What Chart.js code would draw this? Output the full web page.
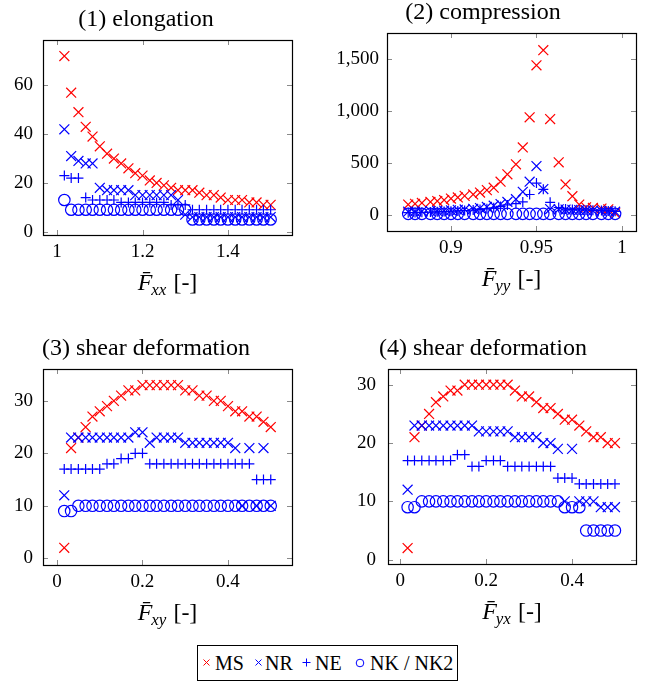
<!DOCTYPE html>
<html>
<head>
<meta charset="utf-8">
<script src="https://cdn.jsdelivr.net/npm/chart.js@4.4.1/dist/chart.umd.min.js"></script>
<style>
html,body{margin:0;padding:0;background:#fff;}
body{width:656px;height:684px;position:relative;overflow:hidden;font-family:"Liberation Serif","Times New Roman",serif;}
canvas{position:absolute;}
#legend{position:absolute;left:197px;top:645px;width:261px;height:36px;box-sizing:border-box;border:1px solid #000;}
#legend span{position:absolute;line-height:20px;font-size:20px;color:#000;white-space:nowrap;}
#legend svg{position:absolute;}
</style>
</head>
<body>
<div id="legend">
  <svg style="left:4px;top:12px" width="9" height="9"><path d="M1.5 1.5L7.5 7.5M7.5 1.5L1.5 7.5" stroke="#ff0000" stroke-width="1" fill="none"/></svg>
  <span style="left:17px;top:7px">MS</span>
  <svg style="left:56px;top:12px" width="9" height="9"><path d="M1.5 1.5L7.5 7.5M7.5 1.5L1.5 7.5" stroke="#0000ff" stroke-width="1" fill="none"/></svg>
  <span style="left:67px;top:7px">NR</span>
  <svg style="left:104px;top:12px" width="9" height="9"><path d="M4.5 0.5V8.5M0.5 4.5H8.5" stroke="#0000ff" stroke-width="1" fill="none"/></svg>
  <span style="left:117px;top:7px">NE</span>
  <svg style="left:157px;top:12px" width="10" height="10"><circle cx="5" cy="5" r="3.8" stroke="#0000ff" stroke-width="1" fill="none"/></svg>
  <span style="left:172px;top:7px">NK / NK2</span>
</div>
<script>
// ---------- data ----------
const F_ELONG = [1.017,1.033,1.05,1.067,1.083,1.1,1.117,1.133,1.15,1.167,1.183,1.2,1.217,1.233,1.25,1.267,1.283,1.3,1.317,1.333,1.35,1.367,1.383,1.4,1.417,1.433,1.45,1.467,1.483,1.5];
const MS_1 = [72,57,49,43,39,35,32,30,28,26,24,23,21,20,19,18,17,17,17,16,15,15,14,13,13,13,12,12,11,11];
const NR_1 = [42,31,29,28,28,18,17,17,17,17,15,15,15,15,15,15,13,7,6,6,6,6,6,6,6,6,6,6,6,6];
const NE_1 = [23,22,22,14,13,13,13,13,12,12,12,12,12,12,12,11,11,11,9,9,9,9,9,9,9,9,9,9,9,9];
const NK_1 = [13,9,9,9,9,9,9,9,9,9,9,9,9,9,9,9,9,9,5,5,5,5,5,5,5,5,5,5,5,5];

const F_COMP = [0.875,0.879,0.883,0.888,0.892,0.896,0.9,0.904,0.908,0.913,0.917,0.921,0.925,0.929,0.933,0.938,0.942,0.946,0.95,0.954,0.958,0.963,0.967,0.971,0.975,0.979,0.983,0.988,0.992,0.996];
const MS_2 = [103,111,119,128,137,147,161,172,187,200,219,242,265,323,394,490,652,942,1442,1588,926,510,297,184,103,77,71,64,58,20];
const NR_2 = [35,36,38,40,42,45,48,52,56,62,70,80,92,108,128,155,226,323,474,252,60,58,55,52,50,48,45,42,40,35];
const NE_2 = [25,27,29,31,33,36,39,42,46,50,55,62,72,85,100,113,129,200,310,250,125,75,60,55,52,50,48,45,42,38];
const NK_2 = [14,14,14,14,14,14,14,14,14,14,14,14,14,14,14,14,14,14,14,14,14,14,14,14,14,14,14,14,14,14];

const F_SHEAR = [0.017,0.033,0.05,0.067,0.083,0.1,0.117,0.133,0.15,0.167,0.183,0.2,0.217,0.233,0.25,0.267,0.283,0.3,0.317,0.333,0.35,0.367,0.383,0.4,0.417,0.433,0.45,0.467,0.483,0.5];
const MS_3 = [2,21,23,25,27,28,29,30,31,32,32,33,33,33,33,33,33,32,32,31,31,30,30,29,28,28,27,27,26,25];
const NR_3 = [12,23,23,23,23,23,23,23,23,23,24,24,22,23,23,23,23,22,22,22,22,22,22,22,21,10,21,10,21,10];
const NE_3 = [17,17,17,17,17,17,18,18,19,19,20,20,18,18,18,18,18,18,18,18,18,18,18,18,18,18,18,15,15,15];
const NK_3 = [9,9,10,10,10,10,10,10,10,10,10,10,10,10,10,10,10,10,10,10,10,10,10,10,10,10,10,10,10,10];

const MS_4 = [2,21,23,25,27,28,29,29,30,30,30,30,30,30,30,29,28,28,27,26,26,25,24,24,23,22,21,21,20,20];
const NR_4 = [12,23,23,23,23,23,23,23,23,23,22,22,22,22,22,21,21,21,21,20,20,19,10,19,10,10,10,9,9,9];
const NE_4 = [17,17,17,17,17,17,17,18,18,16,16,17,17,17,16,16,16,16,16,16,16,14,14,14,13,13,13,13,13,13];
const NK_4 = [9,9,10,10,10,10,10,10,10,10,10,10,10,10,10,10,10,10,10,10,10,10,9,9,9,5,5,5,5,5];

const XT_1 = [1, 1.2, 1.4];       const YT_1 = [0, 20, 40, 60];
const XT_2 = [0.9, 0.95, 1];      const YT_2 = [0, 500, 1000, 1500];
const XT_3 = [0, 0.2, 0.4];       const YT_3 = [0, 10, 20, 30];
const XT_4 = [0, 0.2, 0.4];       const YT_4 = [0, 10, 20, 30];

// ---------- drawing ----------
const FONT = '"Liberation Serif", "Times New Roman", serif';
Chart.defaults.font.family = FONT;
Chart.defaults.color = '#000';

const STYLES = {
  MS: {color: '#ff0000', style: 'crossRot', r: 7},
  NR: {color: '#0000ff', style: 'crossRot', r: 7},
  NE: {color: '#0000ff', style: 'cross', r: 5},
  NK: {color: '#0000ff', style: 'circle', r: 5.7}
};

const fmt = v => Number(v).toLocaleString('en-US', {maximumFractionDigits: 3});

const framePlugin = {
  id: 'frame',
  beforeDatasetsDraw(chart) {
    const {ctx, chartArea: a} = chart;
    const xs = chart.scales.x, ys = chart.scales.y;
    ctx.save();
    ctx.strokeStyle = '#8a8a8a';
    ctx.lineWidth = 1;
    ctx.beginPath();
    xs.ticks.forEach(t => {
      const p = Math.round(xs.getPixelForValue(t.value)) + 0.5;
      ctx.moveTo(p, a.bottom); ctx.lineTo(p, a.bottom - 5);
      ctx.moveTo(p, a.top); ctx.lineTo(p, a.top + 5);
    });
    ys.ticks.forEach(t => {
      const p = Math.round(ys.getPixelForValue(t.value)) + 0.5;
      ctx.moveTo(a.left, p); ctx.lineTo(a.left + 5, p);
      ctx.moveTo(a.right, p); ctx.lineTo(a.right - 5, p);
    });
    ctx.stroke();
    ctx.restore();
  },
  afterDraw(chart, args, opts) {
    const {ctx, chartArea: a} = chart;
    ctx.save();
    ctx.strokeStyle = '#000';
    ctx.lineWidth = 1.2;
    ctx.strokeRect(Math.round(a.left) + 0.5, Math.round(a.top) + 0.5, Math.round(a.right - a.left), Math.round(a.bottom - a.top));
    // x axis label  F̄_sub [-]
    const y0 = a.bottom + 55;
    ctx.fillStyle = '#000';
    ctx.textBaseline = 'alphabetic';
    ctx.textAlign = 'left';
    const fI = 'italic 24px ' + FONT, fS = 'italic 17px ' + FONT, fR = '24px ' + FONT;
    ctx.font = fI; const wF = ctx.measureText('F').width;
    ctx.font = fS; const wS = ctx.measureText(opts.sub).width;
    ctx.font = fR; const wR = ctx.measureText(' [-]').width;
    let x = (a.left + a.right) / 2 - (wF + wS + wR) / 2;
    ctx.font = fI; ctx.fillText('F\u0304', x, y0); x += wF;
    ctx.font = fS; ctx.fillText(opts.sub, x - 1, y0 + 5); x += wS;
    ctx.font = fR; ctx.fillText(' [-]', x, y0);
    ctx.restore();
  }
};

function panel(p) {
  const cv = document.createElement('canvas');
  const cx = p.cx, cw = p.cw;
  const cy = p.box.top - 40;
  const ch = p.box.bottom - cy + 70;
  cv.width = cw; cv.height = ch;
  cv.style.left = cx + 'px'; cv.style.top = cy + 'px';
  cv.style.width = cw + 'px'; cv.style.height = ch + 'px';
  document.body.appendChild(cv);
  const names = ['MS', 'NR', 'NE', 'NK'];
  const datasets = names.map((name, i) => {
    const s = STYLES[name];
    return {
      label: name,
      data: p.xs.map((x, j) => ({x: x, y: p.vals[i][j]})),
      order: 4 - i,
      pointStyle: s.style,
      pointRadius: s.r,
      pointHoverRadius: s.r,
      pointBorderColor: s.color,
      pointBackgroundColor: 'rgba(0,0,0,0)',
      pointBorderWidth: 1.2,
      showLine: false,
      clip: 8
    };
  });
  new Chart(cv, {
    type: 'scatter',
    data: {datasets},
    options: {
      responsive: false,
      animation: false,
      events: [],
      layout: {padding: {left: 0, top: 0, bottom: 0, right: cw - (p.box.right - cx)}},
      plugins: {
        legend: {display: false},
        tooltip: {enabled: false},
        title: {display: true, text: p.title, color: '#000',
          font: {size: 24, weight: 'normal', family: FONT},
          padding: {top: 5, bottom: 6.2}},
        frame: {sub: p.sub}
      },
      scales: {
        x: {
          type: 'linear', min: p.xr[0], max: p.xr[1],
          grid: {display: false, drawTicks: false},
          border: {display: false},
          ticks: {font: {size: 19, family: FONT}, color: '#000', padding: 6, maxRotation: 0, autoSkip: false, callback: fmt},
          afterBuildTicks: s => { s.ticks = p.xt.map(v => ({value: v})); },
          afterFit: s => { s.height = 70; }
        },
        y: {
          type: 'linear', min: p.yr[0], max: p.yr[1],
          grid: {display: false, drawTicks: false},
          border: {display: false},
          ticks: {font: {size: 19, family: FONT}, color: '#000', padding: p.ypad, autoSkip: false, callback: fmt},
          afterBuildTicks: s => { s.ticks = p.yt.map(v => ({value: v})); },
          afterFit: s => { s.width = p.box.left - cx; }
        }
      }
    },
    plugins: [framePlugin]
  });
}

panel({title: '(1) elongation', sub: 'xx', cx: 0, cw: 330,
  box: {left: 43, top: 40, right: 292, bottom: 235},
  xs: F_ELONG, vals: [MS_1, NR_1, NE_1, NK_1],
  xr: [0.967, 1.55], yr: [-1.35, 78.6], xt: XT_1, yt: YT_1, ypad: 10});
panel({title: '(2) compression', sub: 'yy', cx: 330, cw: 326,
  box: {left: 387, top: 33, right: 636, bottom: 231},
  xs: F_COMP, vals: [MS_2, NR_2, NE_2, NK_2],
  xr: [0.8626, 1.0082], yr: [-151, 1753], xt: XT_2, yt: YT_2, ypad: 8});
panel({title: '(3) shear deformation', sub: 'xy', cx: 0, cw: 330,
  box: {left: 43, top: 369, right: 292, bottom: 565},
  xs: F_SHEAR, vals: [MS_3, NR_3, NE_3, NK_3],
  xr: [-0.0327, 0.5497], yr: [-1.28, 36.07], xt: XT_3, yt: YT_3, ypad: 10});
panel({title: '(4) shear deformation', sub: 'yx', cx: 330, cw: 326,
  box: {left: 388, top: 369, right: 636, bottom: 564},
  xs: F_SHEAR, vals: [MS_4, NR_4, NE_4, NK_4],
  xr: [-0.0287, 0.549], yr: [-0.74, 32.7], xt: XT_4, yt: YT_4, ypad: 12});
</script>
</body>
</html>
